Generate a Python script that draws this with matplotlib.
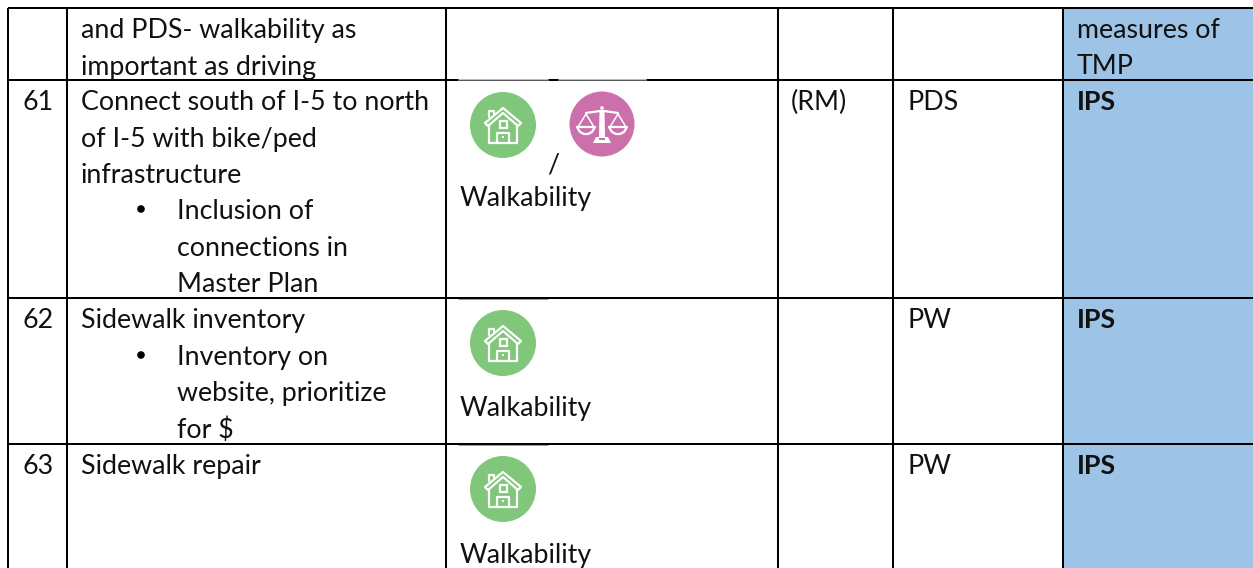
import matplotlib
matplotlib.use('Agg')
import matplotlib.pyplot as plt
from matplotlib.patches import Circle, Rectangle, Polygon

plt.rcParams['font.family'] = ['Lato', 'DejaVu Sans']

# table grid, in pixels of the original page
COLUMNS = [8, 66.5, 445.5, 778, 893, 1063]
ROWS = [7.5, 80, 297.5, 443.5, 568]

ROW_NUMBERS = ['61', '62', '63']
ROW_NUMBER_BASE = [110, 328, 474]

PLAIN_LINES = ['and PDS- walkability as', 'important as driving',
               'Connect south of I-5 to north', 'of I-5 with bike/ped',
               'infrastructure', 'Sidewalk inventory', 'Sidewalk repair']
PLAIN_BASE = [38, 74.5, 110, 146.5, 183, 328, 474]

BULLET_LINES = ['Inclusion of', 'connections in', 'Master Plan',
                'Inventory on', 'website, prioritize', 'for $']
BULLET_BASE = [219, 255.5, 292, 365, 401, 438]
BULLET_DOTS = [209, 355]

WALK_BASE = [206, 416, 563]
LEADS = ['(RM)']
OWNERS = ['PDS', 'PW', 'PW']
STATUS = ['IPS', 'IPS', 'IPS']
MEASURES = ['measures of', 'TMP']

GREEN = '#80c67b'
PINK = '#cb70ab'
BLUE = '#9dc3e6'
FS = 19.3


def line(ax, xs, ys, color='white', lw=1.6):
    ax.plot(xs, ys, color=color, lw=lw, solid_capstyle='round', solid_joinstyle='round', zorder=5)


#green circle with a small house in it
def house(ax, cx, cy):
    ax.add_patch(Circle((cx, cy), 33, color=GREEN, lw=0, zorder=4))
    line(ax, [cx-18, cx, cx+18, cx+15, cx, cx-15, cx-18],
         [cy-2, cy-17, cy-2, cy+1, cy-12, cy+1, cy-2])
    line(ax, [cx-14, cx-14, cx+14, cx+14], [cy, cy+18, cy+18, cy])
    line(ax, [cx-14, cx-14, cx-9, cx-9], [cy-8, cy-14, cy-14, cy-11])
    ax.add_patch(Rectangle((cx-3.5, cy-4.5), 7, 7, fill=False, ec='white', lw=1.6, zorder=5))
    line(ax, [cx-6, cx-6, cx+6, cx+6], [cy+18, cy+8, cy+8, cy+18])
    ax.add_patch(Rectangle((cx-1, cy+11), 2, 2, color='white', lw=0, zorder=5))


#pink circle with the scales
def scales(ax, cx, cy):
    ax.add_patch(Circle((cx, cy), 32.5, color=PINK, lw=0, zorder=4))
    line(ax, [cx-16, cx-2, cx+2, cx+16], [cy-11, cy-13, cy-13, cy-11])
    ax.add_patch(Circle((cx, cy-16), 1.8, color='white', lw=0, zorder=5))
    ax.add_patch(Polygon([[cx-2.5, cy-12], [cx+2.5, cy-12], [cx+3, cy+13], [cx-3, cy+13]], color='white', lw=0, zorder=5))
    ax.add_patch(Polygon([[cx-6, cy+13], [cx+6, cy+13], [cx+9, cy+19], [cx-9, cy+19]], color='white', lw=0, zorder=5))
    ax.add_patch(Rectangle((cx-3, cy+14), 6, 2, color=PINK, lw=0, zorder=5))
    for side in (-1, 1):
        px = cx + side*16
        line(ax, [px-8, px, px+8], [cy+3, cy-10, cy+3], lw=1.1)
        line(ax, [px-9, px+9, px+6, px+2, px-2, px-6, px-9],
             [cy+3, cy+3, cy+8, cy+10, cy+10, cy+8, cy+3])


def main():
    fig = plt.figure(figsize=(12.53, 5.68), dpi=100)
    ax = fig.add_axes([0, 0, 1, 1])
    ax.set_xlim(0, 1253)
    ax.set_ylim(568, 0)
    ax.axis('off')

    ax.add_patch(Rectangle((COLUMNS[5], ROWS[0]), 1253-COLUMNS[5], ROWS[-1]-ROWS[0], color=BLUE, lw=0, zorder=1))

    for x in COLUMNS:
        ax.plot([x, x], [ROWS[0], ROWS[-1]], color='black', lw=1.45, solid_capstyle='butt', zorder=2)
    for y in ROWS[:-1]:
        ax.plot([COLUMNS[0], 1253], [y, y], color='black', lw=1.45, solid_capstyle='butt', zorder=2)

    # the pasted icons cover part of the rule above them
    for x0, x1 in [(458, 548), (558, 646)]:
        ax.plot([x0, x1], [80, 80], color='white', lw=1.8, zorder=3, solid_capstyle='butt')
        ax.plot([x0, x1], [80, 80], color='#555555', lw=0.7, zorder=3, solid_capstyle='butt')
    for y in ROWS[2:4]:
        ax.plot([458, 548], [y+1.5, y+1.5], color='#888888', lw=0.6, zorder=3, solid_capstyle='butt')

    kw = dict(fontsize=FS, va='baseline', color='#111111', zorder=6)
    for t, b in zip(ROW_NUMBERS, ROW_NUMBER_BASE):
        ax.text(23, b, t, **kw)
    for t, b in zip(PLAIN_LINES, PLAIN_BASE):
        ax.text(81, b, t, **kw)
    for t, b in zip(BULLET_LINES, BULLET_BASE):
        ax.text(177, b, t, **kw)
    for y in BULLET_DOTS:
        ax.add_patch(Circle((141, y), 3.8, color='black', lw=0, zorder=6))

    for b in WALK_BASE:
        ax.text(460, b, 'Walkability', **kw)
    ax.text(547, 172, '/', **kw)
    ax.text(791, 110, LEADS[0], **kw)
    for t, b in zip(OWNERS, ROW_NUMBER_BASE):
        ax.text(908, b, t, **kw)
    for t, b in zip(STATUS, ROW_NUMBER_BASE):
        ax.text(1077, b, t, fontweight='bold', **kw)
    for t, b in zip(MEASURES, PLAIN_BASE[:2]):
        ax.text(1077, b, t, **kw)

    house(ax, 503, 125)
    scales(ax, 602, 124)
    house(ax, 503, 343)
    house(ax, 503, 489)

    fig.savefig('out.png', dpi=100)


main()
